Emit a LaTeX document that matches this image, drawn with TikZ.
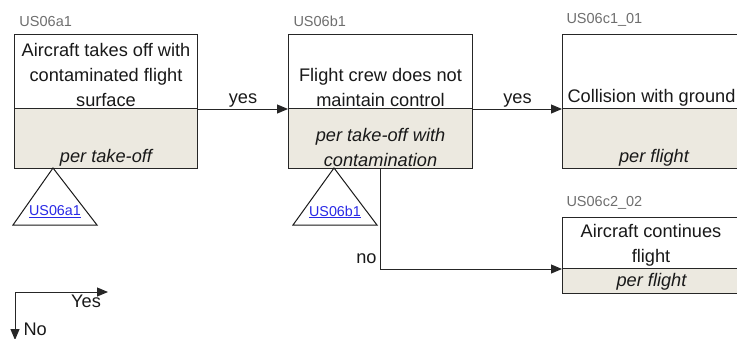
\documentclass[tikz,border=0pt]{standalone}
\usepackage{fontspec}
\setmainfont{Liberation Sans}
\usetikzlibrary{arrows.meta,calc}
\definecolor{beige}{RGB}{236,233,224}
\definecolor{lblgray}{RGB}{110,110,110}
\definecolor{linkblue}{RGB}{40,40,230}
\begin{document}
\begin{tikzpicture}[x=1pt,y=-1pt,
  line width=1pt,
  upbox/.style={draw=black!85, fill=white, rectangle, inner sep=0pt, anchor=north west},
  lowbox/.style={draw=black!85, fill=beige, rectangle, inner sep=0pt, anchor=north west},
  txt/.style={font=\fontsize{18.2}{25}\selectfont, align=center, inner sep=2pt, text=black!90},
  itxt/.style={txt, font=\fontsize{18.2}{25}\selectfont\itshape},
  idlbl/.style={font=\fontsize{14.5}{16}\selectfont, text=lblgray, anchor=south west, inner sep=0pt},
  conn/.style={draw=black!85, -{Triangle[length=11pt,width=9pt]}},
  tri/.style={draw=black!90, fill=white, line width=1pt},
  link/.style={font=\fontsize{14.3}{16}\selectfont, text=linkblue, inner sep=0pt}
]
\useasboundingbox (0,0) rectangle (737,338);

% Box A
\node[upbox, minimum width=183pt, minimum height=74pt] (aup) at (14,34) {};
\node[lowbox, minimum width=183pt, minimum height=60pt] (alow) at (14,108) {};
\node[idlbl] (aid) at (19,27) {US06a1};
\node[txt, anchor=south] (atxt) at (aup.south) {Aircraft takes off with\\contaminated flight\\surface};
\node[itxt, anchor=south] (aper) at (alow.south) {per take-off};

% Box B
\node[upbox, minimum width=184pt, minimum height=74pt] (bup) at (288,34) {};
\node[lowbox, minimum width=184pt, minimum height=60pt] (blow) at (288,108) {};
\node[idlbl] (bid) at (293,27) {US06b1};
\node[txt, anchor=south] (btxt) at (bup.south) {Flight crew does not\\maintain control};
\node[itxt, anchor=south] (bper) at (blow.south) {per take-off with\\contamination};

% Box C1
\node[upbox, minimum width=184pt, minimum height=74pt] (c1up) at (562,34) {};
\node[lowbox, minimum width=184pt, minimum height=60pt] (c1low) at (562,108) {};
\node[idlbl] (c1id) at (566,27) {US06c1\_01};
\node[txt, anchor=south west, inner xsep=5pt] (c1txt) at (c1up.south west) {Collision with ground};
\node[itxt, anchor=south] (c1per) at ($(c1low.south west)+(92,0)$) {per flight};

% Box C2
\node[upbox, minimum width=178pt, minimum height=51pt] (c2up) at (562,217) {};
\node[lowbox, minimum width=178pt, minimum height=25pt] (c2low) at (562,268) {};
\node[idlbl] (c2id) at (566,210) {US06c2\_02};
\node[txt, anchor=south] (c2txt) at ($(c2up.south west)+(89,0)$) {Aircraft continues\\flight};
\node[itxt, anchor=center] (c2per) at ($(c2low.center)+(0,1)$) {per flight};

% Triangles
\coordinate (ta1) at (53,168);
\coordinate (ta2) at (13,225);
\coordinate (ta3) at (97,225);
\draw[tri] (ta1) -- (ta2) -- (ta3) -- cycle;
\node[link] (alink) at (55,212) {\underline{US06a1}};

\coordinate (tb1) at (334,168);
\coordinate (tb2) at (293,225);
\coordinate (tb3) at (377,225);
\draw[tri] (tb1) -- (tb2) -- (tb3) -- cycle;
\node[link] (blink) at (335,212) {\underline{US06b1}};

% Connectors
\draw[conn] (aup.south east) -- node[txt, above, inner sep=1pt] (y1) {yes} (bup.south west);
\draw[conn] (bup.south east) -- node[txt, above, inner sep=1pt] (y2) {yes} (c1up.south west);
\coordinate (nstart) at (380,168);
\draw[conn] (nstart) |- node[txt, pos=0.45, left, inner sep=3pt] (n1) {no} (c2up.south west);

% Legend
\coordinate (lg) at (15,292);
\coordinate (lgx) at (108,292);
\coordinate (lgy) at (15,340);
\draw[conn] (lg) -- (lgx);
\draw[conn] (lg) -- (lgy);
\node[txt, anchor=north] (lyes) at (86,292) {Yes};
\node[txt, anchor=west] (lno) at (21,329) {No};
\end{tikzpicture}
\end{document}
